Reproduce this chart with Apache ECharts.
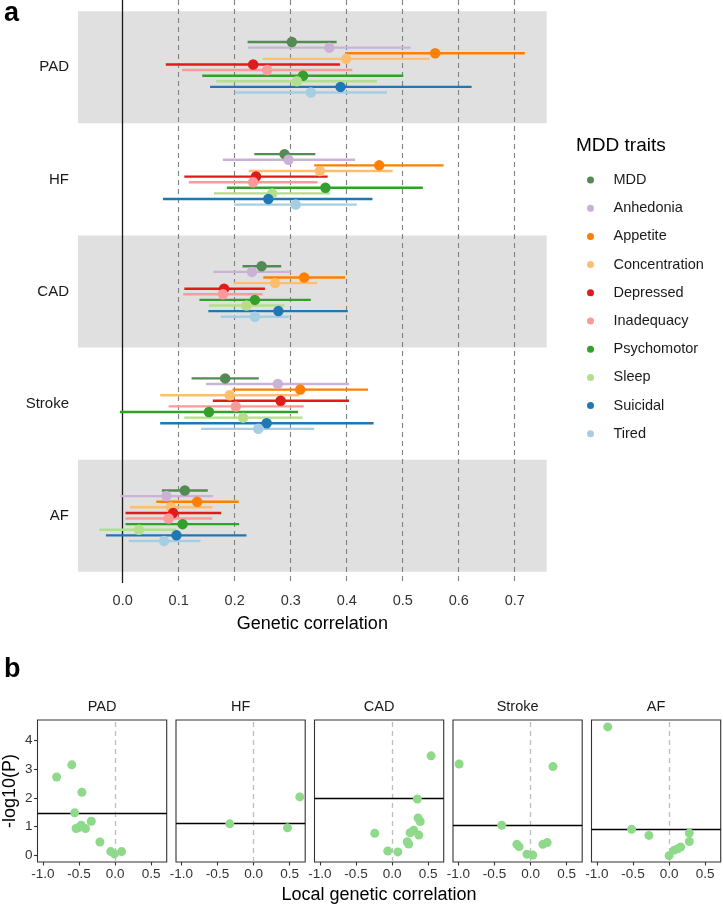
<!DOCTYPE html>
<html><head><meta charset="utf-8">
<script src="https://cdn.jsdelivr.net/npm/echarts@6/dist/echarts.min.js"></script>
<style>html,body{margin:0;padding:0;background:#fff}#c{width:723px;height:905px}</style>
</head><body><div id="c"></div>
<script>
// ---------- Panel a data ----------
const outcomes = ['PAD', 'HF', 'CAD', 'Stroke', 'AF'];
const traits = ['MDD', 'Anhedonia', 'Appetite', 'Concentration', 'Depressed', 'Inadequacy', 'Psychomotor', 'Sleep', 'Suicidal', 'Tired'];
const traitColors = ['#548B54', '#CAB2D6', '#FF7F00', '#FDBF6F', '#E31A1C', '#FB9A99', '#33A02C', '#B2DF8A', '#1F78B4', '#A6CEE3'];
const xTicksA = [0, 0.1, 0.2, 0.3, 0.4, 0.5, 0.6, 0.7];

// estimates, lower and upper bounds per outcome (trait order as above)
const estPAD = [0.302, 0.369, 0.558, 0.399, 0.233, 0.258, 0.322, 0.311, 0.389, 0.336];
const loPAD  = [0.223, 0.224, 0.397, 0.250, 0.077, 0.106, 0.142, 0.167, 0.156, 0.200];
const hiPAD  = [0.382, 0.514, 0.718, 0.548, 0.388, 0.410, 0.501, 0.454, 0.623, 0.472];

const estHF = [0.289, 0.296, 0.458, 0.352, 0.238, 0.233, 0.362, 0.267, 0.260, 0.309];
const loHF  = [0.235, 0.179, 0.342, 0.225, 0.110, 0.118, 0.186, 0.163, 0.072, 0.199];
const hiHF  = [0.344, 0.415, 0.573, 0.482, 0.366, 0.348, 0.536, 0.370, 0.446, 0.418];

const estCAD = [0.248, 0.231, 0.324, 0.272, 0.181, 0.179, 0.236, 0.221, 0.278, 0.236];
const loCAD  = [0.214, 0.162, 0.251, 0.198, 0.110, 0.108, 0.137, 0.154, 0.153, 0.175];
const hiCAD  = [0.283, 0.300, 0.397, 0.347, 0.254, 0.250, 0.336, 0.289, 0.402, 0.297];

const estStroke = [0.183, 0.277, 0.317, 0.191, 0.282, 0.202, 0.154, 0.215, 0.257, 0.242];
const loStroke  = [0.123, 0.149, 0.196, 0.067, 0.161, 0.082, -0.005, 0.110, 0.067, 0.140];
const hiStroke  = [0.243, 0.404, 0.438, 0.315, 0.404, 0.323, 0.313, 0.321, 0.448, 0.342];

const estAF = [0.111, 0.078, 0.133, 0.086, 0.090, 0.082, 0.107, 0.029, 0.096, 0.074];
const loAF  = [0.070, -0.004, 0.060, 0.013, 0.005, 0.005, 0.005, -0.042, -0.030, 0.011];
const hiAF  = [0.152, 0.161, 0.207, 0.160, 0.176, 0.160, 0.208, 0.096, 0.221, 0.139];

// ---------- Panel b data ----------
const xTicksB = [-1.0, -0.5, 0.0, 0.5];
const yTicksB = [0, 1, 2, 3, 4];
const localR_PAD = [-0.81, -0.60, -0.46, -0.56, -0.54, -0.51, -0.47, -0.41, -0.33, -0.21, -0.06, -0.01, 0.09];
const localP_PAD = [2.72, 3.14, 2.19, 1.48, 0.94, 0.96, 1.05, 0.94, 1.19, 0.47, 0.14, 0.06, 0.14];
const localR_HF = [-0.33, 0.47, 0.64];
const localP_HF = [1.10, 0.96, 2.03];
const localR_CAD = [0.54, 0.35, 0.36, 0.39, -0.24, 0.25, 0.30, 0.37, 0.21, 0.23, -0.06, 0.08];
const localP_CAD = [3.45, 1.96, 1.30, 1.18, 0.77, 0.79, 0.88, 0.71, 0.48, 0.40, 0.16, 0.13];
const localR_Stroke = [-0.99, 0.31, -0.40, -0.19, -0.16, -0.05, 0.03, 0.17, 0.23];
const localP_Stroke = [3.17, 3.08, 1.05, 0.39, 0.31, 0.05, 0.02, 0.39, 0.45];
const localR_AF = [-0.85, -0.52, -0.28, 0.28, 0.28, 0.00, 0.07, 0.12, 0.16];
const localP_AF = [4.45, 0.91, 0.70, 0.78, 0.49, 0.00, 0.19, 0.24, 0.30];
const thresholds = [1.48, 1.11, 1.97, 1.04, 0.92];

// ---------- build ----------
const estAll = [estPAD, estHF, estCAD, estStroke, estAF];
const loAll = [loPAD, loHF, loCAD, loStroke, loAF];
const hiAll = [hiPAD, hiHF, hiCAD, hiStroke, hiAF];
const localR = [localR_PAD, localR_HF, localR_CAD, localR_Stroke, localR_AF];
const localP = [localP_PAD, localP_HF, localP_CAD, localP_Stroke, localP_AF];

const dodge = i => -0.225 + 0.05 * i;
const series = [];
// background bands + reference lines for panel a
series.push({
  type: 'scatter', xAxisIndex: 0, yAxisIndex: 0, data: [], silent: true,
  markArea: { silent: true, z: 0.5, itemStyle: { color: '#E0E0E0' },
    data: [[{ yAxis: 0.5 }, { yAxis: 1.5 }], [{ yAxis: 2.5 }, { yAxis: 3.5 }], [{ yAxis: 4.5 }, { yAxis: 5.5 }]] },
  markLine: { silent: true, z: 1, symbol: 'none', label: { show: false },
    lineStyle: { color: '#808080', type: [5, 4], width: 1.1 },
    data: xTicksA.filter(v => v > 0).map(v => ({ xAxis: v })) }
});
series.push({
  type: 'scatter', xAxisIndex: 0, yAxisIndex: 0, data: [], silent: true,
  markLine: { silent: true, z: 1, symbol: 'none', label: { show: false },
    lineStyle: { color: '#1a1a1a', type: 'solid', width: 1.3 }, data: [{ xAxis: 0 }] }
});

traits.forEach((t, ti) => {
  const barData = outcomes.map((o, oi) => [loAll[oi][ti], hiAll[oi][ti], oi + 1 + dodge(ti)]);
  const ptData = outcomes.map((o, oi) => [estAll[oi][ti], oi + 1 + dodge(ti)]);
  series.push({
    type: 'custom', name: t + '_ci', xAxisIndex: 0, yAxisIndex: 0, silent: true,
    data: barData,
    renderItem: (params, api) => {
      const a = api.coord([api.value(0), api.value(2)]);
      const b = api.coord([api.value(1), api.value(2)]);
      return { type: 'line', shape: { x1: a[0], y1: a[1], x2: b[0], y2: b[1] },
        style: { stroke: traitColors[ti], lineWidth: 2.4 } };
    }
  });
  series.push({
    type: 'scatter', name: t, xAxisIndex: 0, yAxisIndex: 0, data: ptData,
    symbol: 'circle', symbolSize: 10.5, itemStyle: { color: traitColors[ti], opacity: 1 }
  });
});

// panel b grids
const bLefts = [37.5, 176, 314.5, 453, 591.5];
const bW = 129.2, bTop = 720, bH = 142;
const grids = [{ left: 78, top: 0, width: 468.7, height: 583 }];
const xAxes = [{
  gridIndex: 0, type: 'value', min: -0.0798, max: 0.7571,
  axisLine: { show: false, onZero: false }, axisTick: { show: false }, splitLine: { show: false },
  axisLabel: { customValues: xTicksA, formatter: v => v.toFixed(1), fontSize: 14.5, color: '#333', margin: 10, fontFamily: 'Liberation Sans, Arial' },
  name: 'Genetic correlation', nameLocation: 'middle', nameGap: 32,
  nameTextStyle: { fontSize: 18, color: '#000', fontFamily: 'Liberation Sans, Arial' }
}];
const yAxes = [{
  gridIndex: 0, type: 'value', inverse: true, min: 0.4, max: 5.6,
  axisLine: { show: false, onZero: false }, axisTick: { show: false }, splitLine: { show: false },
  axisLabel: { customValues: [1, 2, 3, 4, 5], formatter: v => outcomes[Math.round(v) - 1], fontSize: 15, color: '#1a1a1a', margin: 9, fontFamily: 'Liberation Sans, Arial' }
}];
const graphics = [
  { type: 'text', left: 4, top: 0, style: { text: 'a', font: 'bold 27px Liberation Sans, Arial', fill: '#000' } },
  { type: 'text', left: 4, top: 656, style: { text: 'b', font: 'bold 27px Liberation Sans, Arial', fill: '#000' } },
  { type: 'text', x: 576, y: 146, style: { text: 'MDD traits', font: '19px Liberation Sans, Arial', fill: '#000', textVerticalAlign: 'middle' } },
  { type: 'text', x: 379, y: 895, style: { text: 'Local genetic correlation', font: '18px Liberation Sans, Arial', fill: '#000', textAlign: 'center', textVerticalAlign: 'middle' } },
  { type: 'text', x: 10, y: 791, rotation: Math.PI / 2, style: { text: '-log10(P)', font: '18px Liberation Sans, Arial', fill: '#000', textAlign: 'center', textVerticalAlign: 'middle' } }
];

outcomes.forEach((o, k) => {
  const gi = k + 1;
  grids.push({ left: bLefts[k], top: bTop, width: bW, height: bH, show: true, borderColor: '#333', borderWidth: 1.1, backgroundColor: 'transparent' });
  xAxes.push({
    gridIndex: gi, type: 'value', min: -1.075, max: 0.715,
    axisLine: { show: false, onZero: false }, splitLine: { show: false },
    axisTick: { show: true, customValues: xTicksB, length: 3.5, lineStyle: { color: '#333', width: 1.1 } },
    axisLabel: { customValues: xTicksB, formatter: v => v.toFixed(1), fontSize: 13.5, color: '#333', margin: 5, fontFamily: 'Liberation Sans, Arial' }
  });
  yAxes.push({
    gridIndex: gi, type: 'value', min: -0.22, max: 4.69,
    axisLine: { show: false, onZero: false }, splitLine: { show: false },
    axisTick: { show: k === 0, customValues: yTicksB, length: 3.5, lineStyle: { color: '#333', width: 1.1 } },
    axisLabel: { show: k === 0, customValues: yTicksB, fontSize: 13.5, color: '#333', margin: 5, fontFamily: 'Liberation Sans, Arial' }
  });
  graphics.push({ type: 'text', x: bLefts[k] + bW / 2, y: 707, style: { text: o, font: '14.5px Liberation Sans, Arial', fill: '#1a1a1a', textAlign: 'center', textVerticalAlign: 'middle' } });
  series.push({
    type: 'scatter', name: 'local_' + o, xAxisIndex: gi, yAxisIndex: gi,
    data: localR[k].map((r, i) => [r, localP[k][i]]),
    symbol: 'circle', symbolSize: 9, itemStyle: { color: '#8FD98B', opacity: 1 },
    markLine: { silent: true, symbol: 'none', label: { show: false }, z: 1,
      data: [
        { xAxis: 0, lineStyle: { color: '#BDBDBD', type: [5, 4], width: 1.3 } },
        { yAxis: thresholds[k], lineStyle: { color: '#000', type: 'solid', width: 1.3 } }
      ] }
  });
});

const chart = echarts.init(document.getElementById('c'), null, { renderer: 'canvas' });
chart.setOption({
  animation: false,
  backgroundColor: '#fff',
  textStyle: { fontFamily: 'Liberation Sans, Arial' },
  grid: grids, xAxis: xAxes, yAxis: yAxes,
  legend: {
    orient: 'vertical', left: 582, top: 166, itemWidth: 36, itemHeight: 7, itemGap: 10.2,
    icon: 'circle', symbolKeepAspect: true,
    textStyle: { fontSize: 14.5, color: '#1a1a1a', lineHeight: 18 },
    data: traits, selectedMode: false
  },
  graphic: graphics,
  series: series
});
</script>
</body></html>
